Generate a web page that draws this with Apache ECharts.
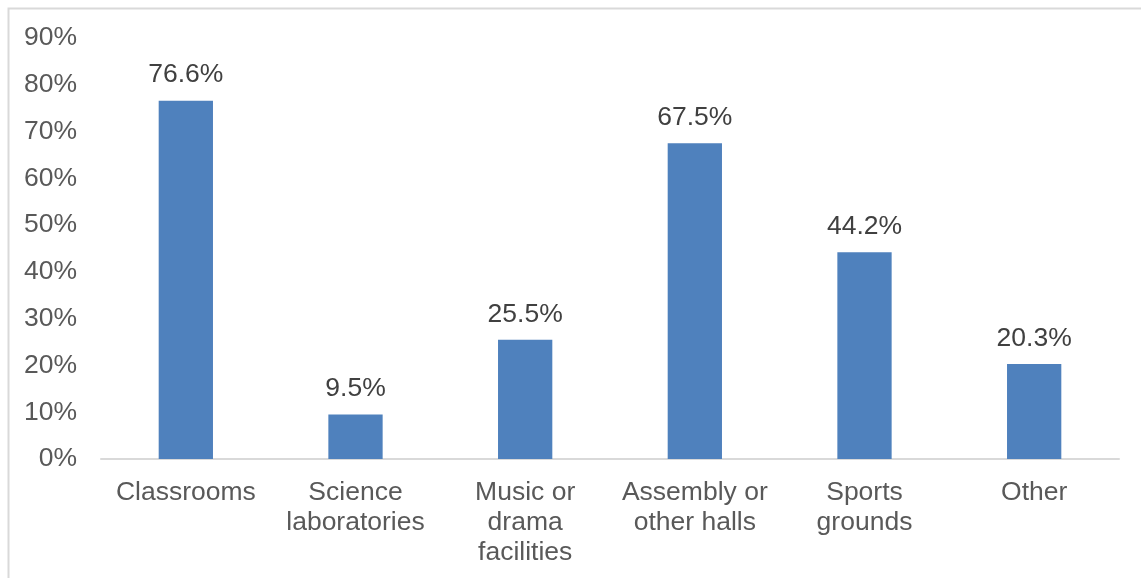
<!DOCTYPE html>
<html>
<head>
<meta charset="utf-8">
<script src="https://cdn.jsdelivr.net/npm/echarts@6/dist/echarts.min.js"></script>
<style>
html,body{margin:0;padding:0;background:#fff;}
#chart{width:1141px;height:578px;}
</style>
</head>
<body>
<div id="chart"></div>
<script>
const categories = ['Classrooms', 'Science\nlaboratories', 'Music or\ndrama\nfacilities', 'Assembly or\nother halls', 'Sports\ngrounds', 'Other'];
const values = [76.6, 9.5, 25.5, 67.5, 44.2, 20.3];
const yMin = 0, yMax = 90, yStep = 10;

const chart = echarts.init(document.getElementById('chart'));
const font = 'Liberation Sans, Arial, sans-serif';
chart.setOption({
  animation: false,
  graphic: [{
    type: 'rect', left: 6, top: 6,
    shape: { width: 1300, height: 700 },
    style: { fill: 'none', stroke: '#d9d9d9', lineWidth: 2 }
  }],
  grid: { left: 101, right: 22, top: 38, bottom: 119, containLabel: false },
  xAxis: {
    type: 'category',
    data: categories,
    axisLine: { lineStyle: { color: '#d9d9d9', width: 2 } },
    axisTick: { show: false },
    axisLabel: { color: '#595959', fontFamily: font, fontSize: 26.5, lineHeight: 30, margin: 19, interval: 0 }
  },
  yAxis: {
    type: 'value', min: yMin, max: yMax, interval: yStep,
    axisLine: { show: false },
    axisTick: { show: false },
    splitLine: { show: false },
    axisLabel: { color: '#595959', fontFamily: font, fontSize: 26.5, margin: 24, formatter: '{value}%' }
  },
  series: [{
    type: 'bar',
    data: values,
    barWidth: '32%',
    itemStyle: { color: '#4f81bd' },
    label: {
      show: true, position: 'top', distance: 12,
      color: '#404040', fontFamily: font, fontSize: 26.5,
      formatter: p => p.value.toFixed(1) + '%'
    }
  }]
});
</script>
</body>
</html>
